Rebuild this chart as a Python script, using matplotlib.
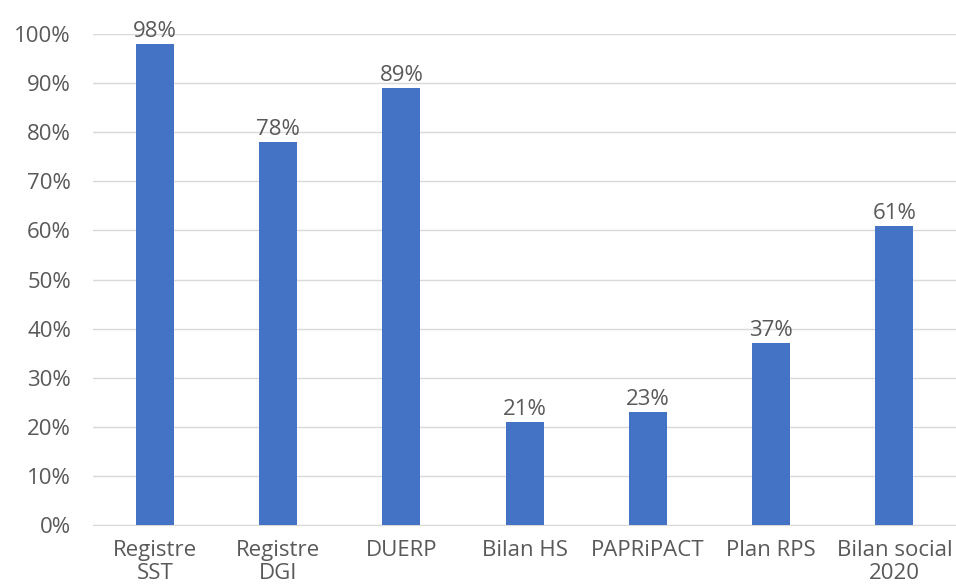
import matplotlib.pyplot as plt
from matplotlib.ticker import PercentFormatter

plt.rcParams['font.family'] = ['Open Sans', 'DejaVu Sans']

# Document categories and share of respondents
categories = ["Registre\nSST", "Registre\nDGI", "DUERP", "Bilan HS",
              "PAPRiPACT", "Plan RPS", "Bilan social\n2020"]
values = [98, 78, 89, 21, 23, 37, 61]

text_color = "#595959"
bar_color = "#4472C4"

fig = plt.figure(figsize=(9.56, 5.88), dpi=100)
ax = fig.add_axes([0.0975, 0.107, 0.9025, 0.835])

x = range(len(categories))
bars = ax.bar(x, values, width=0.31, color=bar_color, zorder=3)

for b, v in zip(bars, values):
    ax.text(b.get_x() + b.get_width() / 2, v + 0.4, f"{v}%",
            ha="center", va="bottom", fontsize=16, color=text_color)

ax.set_xlim(-0.5, len(categories) - 0.5)
ax.set_ylim(0, 100)
ax.set_yticks(range(0, 101, 10))
ax.yaxis.set_major_formatter(PercentFormatter(decimals=0))
ax.set_xticks(list(x))
ax.set_xticklabels(categories, linespacing=1.1)

ax.grid(axis="y", color="#D9D9D9", linewidth=1, zorder=0)
for s in ["top", "right", "left"]:
    ax.spines[s].set_visible(False)
ax.spines["bottom"].set_color("#D9D9D9")
ax.tick_params(axis="both", length=0, labelsize=16, colors=text_color)
ax.tick_params(axis="x", pad=11)
ax.tick_params(axis="y", pad=16)

fig.savefig("out.png", dpi=100)
